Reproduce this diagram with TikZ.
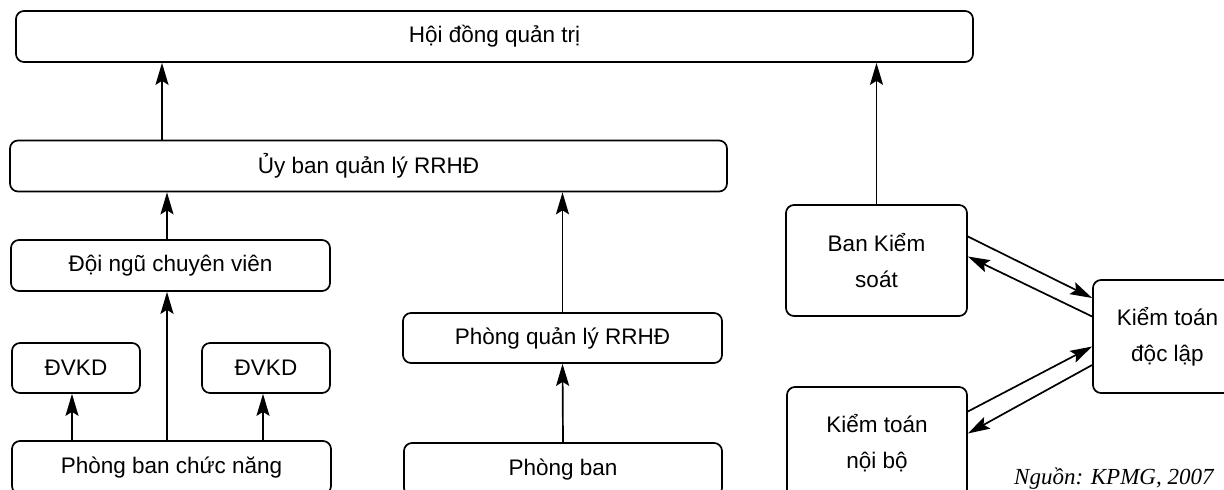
\documentclass[tikz,border=0pt]{standalone}
\usepackage{fontspec}
\setmainfont{Liberation Sans}
\newfontfamily\srcfont{Liberation Serif}
\usepackage{tikz}
\usetikzlibrary{arrows.meta}

\begin{document}
\begin{tikzpicture}[x=1pt,y=-1pt,
  box/.style={draw,rounded corners=8pt,line width=1.7pt,inner sep=0pt,align=center,font=\fontsize{22.5}{36}\selectfont},
  arr/.style={line width=1.7pt,-{Stealth[length=22pt,width=13pt,inset=4pt]}}]
  \useasboundingbox (0,0) rectangle (1224,490);
  \clip (0,0) rectangle (1224,490);
  % left column
  \node[box,minimum width=957pt,minimum height=51pt] (hdqt) at (494.5,36.5) {Hội đồng quản trị};
  \node[box,minimum width=717pt,minimum height=51pt] (ubql) at (368.5,166) {Ủy ban quản lý RRHĐ};
  \node[box,minimum width=319pt,minimum height=51pt] (dncv) at (170.5,265.5) {Đội ngũ chuyên viên};
  \node[box,minimum width=128pt,minimum height=50pt] (dvkd1) at (76,368) {ĐVKD};
  \node[box,minimum width=128pt,minimum height=50pt] (dvkd2) at (266,368) {ĐVKD};
  \node[box,minimum width=319pt,minimum height=53pt] (pbcn) at (171.5,467.5) {Phòng ban chức năng};
  % middle column
  \node[box,minimum width=319pt,minimum height=50pt] (pqly) at (562.5,338) {Phòng quản lý RRHĐ};
  \node[box,minimum width=318pt,minimum height=53pt] (pb) at (563,469.5) {Phòng ban};
  % right column
  \node[box,minimum width=181pt,minimum height=111pt] (bks) at (876.5,260.5) {Ban Kiểm\\soát};
  \node[box,minimum width=180pt,minimum height=113pt] (ktnb) at (877,443.5) {Kiểm toán\\nội bộ};
  \node[box,minimum width=149pt,minimum height=113pt] (ktdl) at (1167.5,336.5) {Kiểm toán\\độc lập};
  \node[anchor=base west,inner sep=0pt,font=\srcfont\itshape\fontsize{23}{26}\selectfont] (nguon) at (1014,484) {Nguồn: KPMG, 2007};
  % arrows
  \draw[arr] ([xshift=-206.5pt]ubql.north) -- ([xshift=-206.5pt]ubql.north |- hdqt.south);
  \draw[arr] ([xshift=-3.5pt]dncv.north) -- ([xshift=-3.5pt]dncv.north |- ubql.south);
  \draw[arr] ([xshift=-3.5pt]dncv.south |- pbcn.north) -- ([xshift=-3.5pt]dncv.south);
  \draw[arr] ([xshift=-4pt]dvkd1.south |- pbcn.north) -- ([xshift=-4pt]dvkd1.south);
  \draw[arr] ([xshift=-3pt]dvkd2.south |- pbcn.north) -- ([xshift=-3pt]dvkd2.south);
  \draw[arr] (pqly.north) -- (pqly.north |- ubql.south);
  \draw[arr] (pb.north) -- (pqly.south);
  \draw[arr] (bks.north) -- (bks.north |- hdqt.south);
  \draw[arr] ([yshift=24pt]bks.east) -- ([yshift=38.5pt]ktdl.west);
  \draw[arr] ([yshift=20pt]ktdl.west) -- ([yshift=4pt]bks.east);
  \draw[arr] ([yshift=32pt]ktnb.east) -- ([yshift=-10pt]ktdl.west);
  \draw[arr] ([yshift=-28.5pt]ktdl.west) -- ([yshift=10pt]ktnb.east);
\end{tikzpicture}
\end{document}
